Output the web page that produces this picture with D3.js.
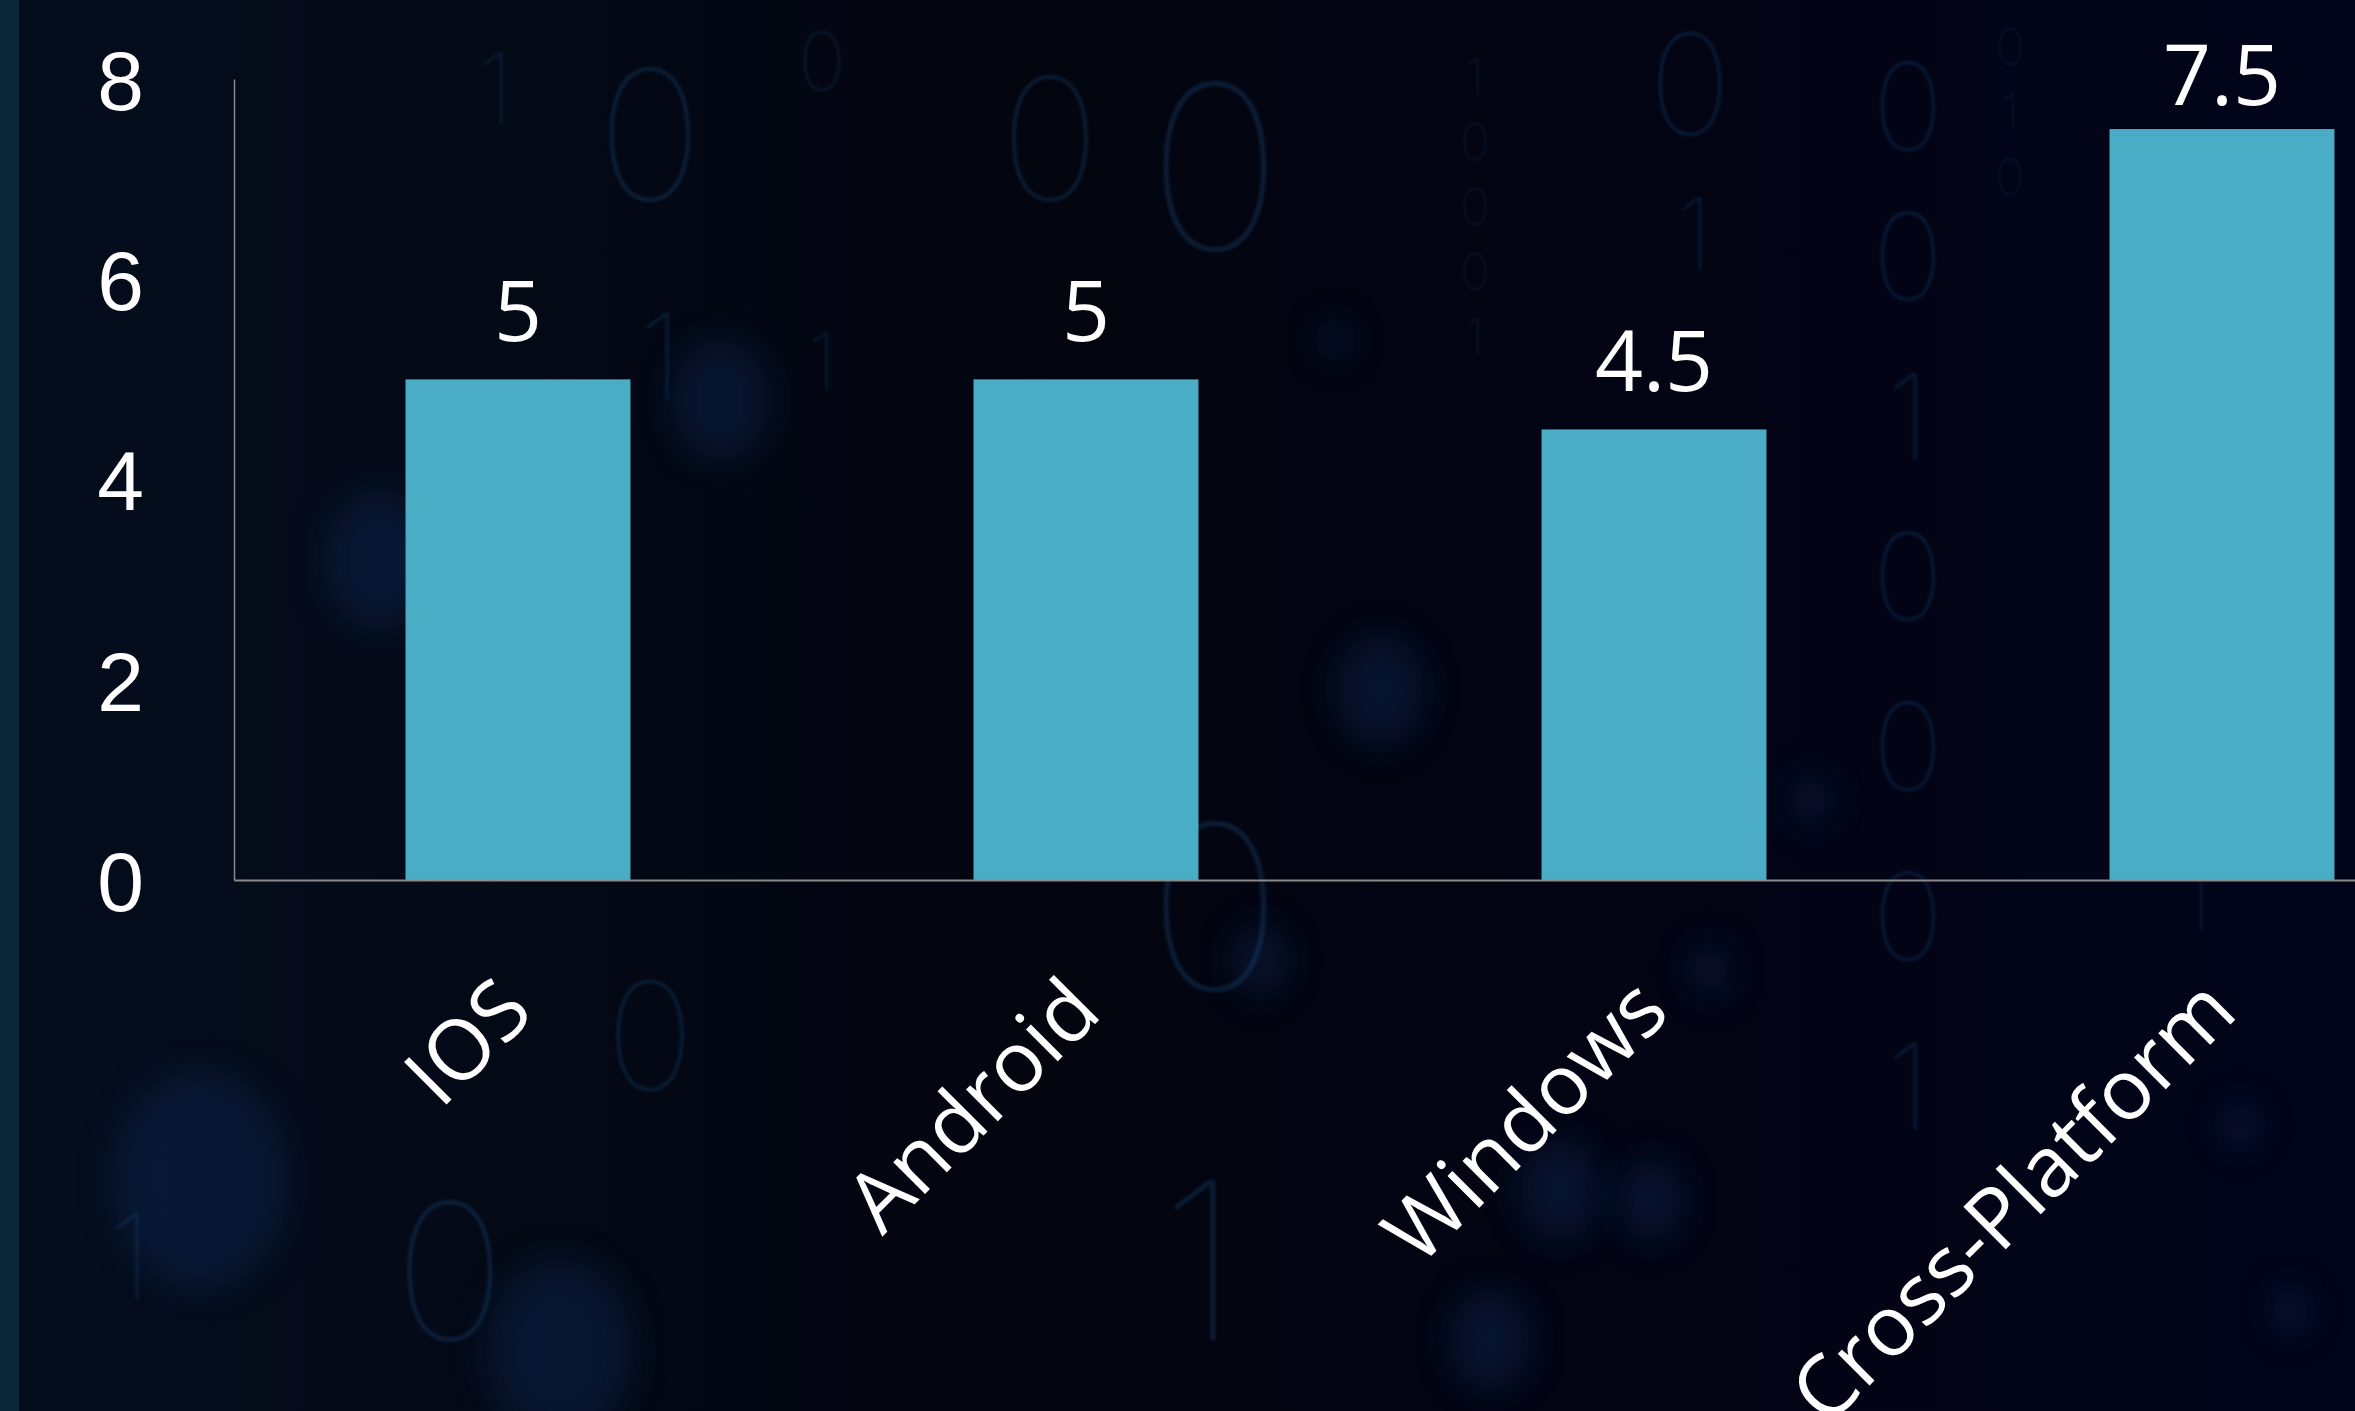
<!DOCTYPE html>
<html>
<head>
<meta charset="utf-8">
<script src="https://cdn.jsdelivr.net/npm/d3@7"></script>
<style>
    html, body { margin: 0; padding: 0; background: #02040f; overflow: hidden; }
    svg { display: block; font-family: "Open Sans", "Noto Sans", sans-serif; }
</style>
</head>
<body>
<svg id="chart"></svg>
<script>
// Chart data
const categories = ['IOS', 'Android', 'Windows', 'Cross-Platform'];
const values = [5, 5, 4.5, 7.5];
const yTicks = [0, 2, 4, 6, 8];

// Faint binary digits and glows in the backdrop (decoration only)
const bgDigits = [
    { t: '1', x: 495, y: 125, s: 100 }, { t: '0', x: 650, y: 200, s: 180 },
    { t: '0', x: 822, y: 90, s: 80 }, { t: '0', x: 1050, y: 200, s: 170 },
    { t: '0', x: 1215, y: 250, s: 230 }, { t: '1', x: 660, y: 400, s: 120 },
    { t: '1', x: 822, y: 390, s: 80 }, { t: '1', x: 1475, y: 95, s: 50 },
    { t: '0', x: 1475, y: 160, s: 50 }, { t: '0', x: 1475, y: 225, s: 50 },
    { t: '0', x: 1475, y: 290, s: 50 }, { t: '1', x: 1475, y: 355, s: 50 },
    { t: '0', x: 1690, y: 135, s: 140 }, { t: '1', x: 1694, y: 270, s: 100 },
    { t: '0', x: 1908, y: 150, s: 120 }, { t: '0', x: 1908, y: 300, s: 120 },
    { t: '1', x: 1908, y: 460, s: 120 }, { t: '0', x: 1908, y: 620, s: 120 },
    { t: '0', x: 1908, y: 790, s: 120 }, { t: '0', x: 1908, y: 960, s: 120 },
    { t: '1', x: 1908, y: 1130, s: 120 }, { t: '0', x: 2010, y: 65, s: 50 },
    { t: '1', x: 2010, y: 130, s: 50 }, { t: '0', x: 2010, y: 195, s: 50 },
    { t: '0', x: 1215, y: 990, s: 230 }, { t: '1', x: 1200, y: 1340, s: 220 },
    { t: '0', x: 650, y: 1090, s: 150 }, { t: '0', x: 450, y: 1340, s: 190 },
    { t: '1', x: 2195, y: 930, s: 100 }, { t: '1', x: 130, y: 1300, s: 120 }
];
const bgGlows = [
    { x: 200, y: 1180, r: 110 }, { x: 380, y: 560, r: 70 }, { x: 560, y: 1350, r: 90 },
    { x: 1380, y: 690, r: 55 }, { x: 1560, y: 1190, r: 50 }, { x: 1650, y: 1200, r: 40 },
    { x: 1490, y: 1340, r: 50 }, { x: 1260, y: 960, r: 35 }, { x: 1710, y: 970, r: 25 },
    { x: 2240, y: 1125, r: 25 }, { x: 2290, y: 1310, r: 25 }, { x: 1810, y: 800, r: 25 },
    { x: 1335, y: 340, r: 20 }, { x: 720, y: 400, r: 60 }
];

const width = 2355;
const height = 1411;
const margin = { top: 79, left: 234, bottom: 531 };
const plotRight = 2506;
const fontSize = 84;

const svg = d3.select('#chart')
    .attr('width', width)
    .attr('height', height);

// Background
const defs = svg.append('defs');
const bgGrad = defs.append('linearGradient')
    .attr('id', 'bg-grad')
    .attr('x1', 0).attr('y1', 0).attr('x2', 1).attr('y2', 0);
bgGrad.append('stop').attr('offset', '0%').attr('stop-color', '#050d1d');
bgGrad.append('stop').attr('offset', '45%').attr('stop-color', '#03050f');
bgGrad.append('stop').attr('offset', '100%').attr('stop-color', '#02041a');

defs.append('filter').attr('id', 'blur-soft')
    .append('feGaussianBlur').attr('stdDeviation', 1.5);
defs.append('filter').attr('id', 'blur-big')
    .attr('x', '-100%').attr('y', '-100%').attr('width', '300%').attr('height', '300%')
    .append('feGaussianBlur').attr('stdDeviation', 18);

svg.append('rect')
    .attr('width', width)
    .attr('height', height)
    .attr('fill', 'url(#bg-grad)');

svg.append('g')
    .selectAll('ellipse')
    .data(bgGlows)
    .enter()
    .append('ellipse')
    .attr('cx', d => d.x)
    .attr('cy', d => d.y)
    .attr('rx', d => d.r * 0.8)
    .attr('ry', d => d.r)
    .attr('fill', '#0a2a5c')
    .attr('opacity', 0.4)
    .attr('filter', 'url(#blur-big)');

svg.append('g')
    .selectAll('text')
    .data(bgDigits)
    .enter()
    .append('text')
    .attr('x', d => d.x)
    .attr('y', d => d.y)
    .attr('text-anchor', 'middle')
    .attr('font-family', 'Inter, Lato, sans-serif')
    .attr('font-weight', 100)
    .attr('font-size', d => d.s)
    .attr('fill', '#17436e')
    .attr('opacity', 0.4)
    .attr('filter', 'url(#blur-soft)')
    .text(d => d.t);

// Left edge strip
svg.append('rect')
    .attr('width', 19)
    .attr('height', height)
    .attr('fill', '#0b2638');

// Scales
const x = d3.scaleBand()
    .domain(categories)
    .range([margin.left, plotRight])
    .paddingInner(0.604)
    .paddingOuter(0.302);

const y = d3.scaleLinear()
    .domain([0, 8])
    .range([height - margin.bottom, margin.top]);

const baseY = y(0);

// Bars
svg.append('g')
    .selectAll('rect')
    .data(values)
    .enter()
    .append('rect')
    .attr('x', (d, i) => x(categories[i]))
    .attr('y', d => y(d))
    .attr('width', x.bandwidth())
    .attr('height', d => baseY - y(d))
    .attr('fill', '#4bacc6');

// Value labels
svg.append('g')
    .selectAll('text')
    .data(values)
    .enter()
    .append('text')
    .attr('x', (d, i) => x(categories[i]) + x.bandwidth() / 2)
    .attr('y', d => Math.max(y(d) - 38, 105))
    .attr('text-anchor', 'middle')
    .attr('fill', '#ffffff')
    .attr('font-size', fontSize)
    .text(d => d);

// Y axis
const yAxis = svg.append('g')
    .attr('transform', `translate(${margin.left},0)`)
    .call(d3.axisLeft(y).tickValues(yTicks).tickSize(0).tickPadding(90));
yAxis.select('.domain').attr('stroke', '#8a8a8a').attr('stroke-width', 1.5);
yAxis.selectAll('text')
    .attr('fill', '#ffffff')
    .attr('font-size', fontSize)
    .attr('font-family', null)
    .attr('dy', '0.36em');

// X axis
const xAxis = svg.append('g')
    .attr('transform', `translate(0,${baseY})`)
    .call(d3.axisBottom(x).tickSize(0).tickFormat(''));
xAxis.select('.domain').attr('stroke', '#8a8a8a').attr('stroke-width', 2);

// Rotated category labels
svg.append('g')
    .selectAll('text')
    .data(categories)
    .enter()
    .append('text')
    .attr('transform', d => `translate(${x(d) + x.bandwidth() / 2 + 18},${baseY + 135}) rotate(-45)`)
    .attr('text-anchor', 'end')
    .attr('fill', '#ffffff')
    .attr('font-size', fontSize)
    .text(d => d);
</script>
</body>
</html>
